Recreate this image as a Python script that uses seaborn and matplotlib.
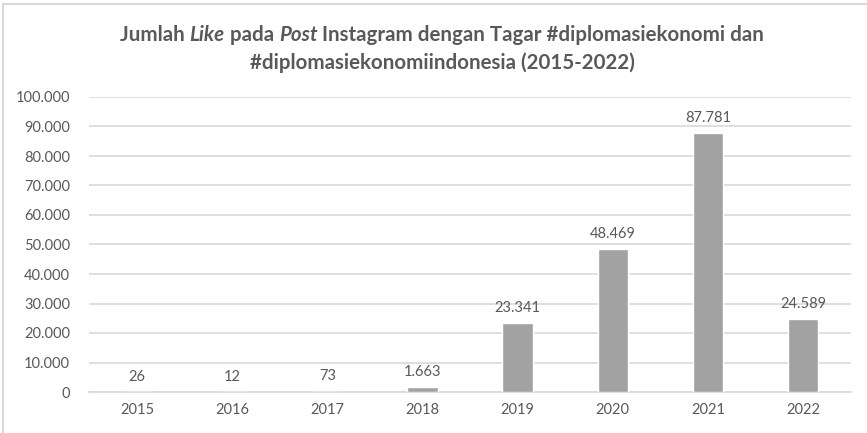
import matplotlib
matplotlib.use("Agg")
import matplotlib.pyplot as plt
import seaborn as sns
import pandas as pd
from matplotlib.patches import Rectangle

years = ["2015", "2016", "2017", "2018", "2019", "2020", "2021", "2022"]
likes = [26, 12, 73, 1663, 23341, 48469, 87781, 24589]
yticks = [0, 10000, 20000, 30000, 40000, 50000, 60000, 70000, 80000, 90000, 100000]

df = pd.DataFrame({"year": years, "likes": likes})

sns.set_theme(style="white")
plt.rcParams['font.family'] = ['Lato', 'DejaVu Sans']
TXT = "#595959"

fig = plt.figure(figsize=(8.67, 4.33), dpi=100)
ax = fig.add_axes([89.4/867, 1 - 392/433, (850.6-89.4)/867, (392-97)/433])

sns.barplot(data=df, x="year", y="likes", color="#a2a2a2", saturation=1,
            width=0.32, ax=ax, zorder=3)
ax.set_ylim(0, 100000)
ax.set_yticks(yticks)
ax.set_yticklabels([f"{v:,}".replace(",", ".") for v in yticks])
ax.yaxis.grid(True, color="#d9d9d9", linewidth=1.2, zorder=0)
ax.set_axisbelow(True)
for s in ["top", "right", "left"]:
    ax.spines[s].set_visible(False)
ax.spines["bottom"].set_color("#d9d9d9")
ax.spines["bottom"].set_linewidth(1.2)
ax.set_xlabel("")
ax.set_ylabel("")
ax.tick_params(axis="both", length=0, labelsize=10.5, labelcolor=TXT)
ax.tick_params(axis="y", pad=14)
ax.tick_params(axis="x", pad=8)

for i, v in enumerate(likes):
    ax.annotate(f"{v:,}".replace(",", "."), (i, v), xytext=(0, 6),
                textcoords="offset points", ha="center", va="bottom",
                fontsize=10.5, color=TXT)

# border
fig.patches.append(Rectangle((3/867, -0.1), 1.2, 1 - 4/433 + 0.1,
                             transform=fig.transFigure, fill=False,
                             edgecolor="#d9d9d9", linewidth=1.5))

# Title with italic parts
fig.canvas.draw()
renderer = fig.canvas.get_renderer()

def rich_line(parts, y, cx=442/867, size=14.8):
    texts = []
    for s, style in parts:
        t = fig.text(0, y, s, fontsize=size, fontweight="bold", style=style,
                     color=TXT, ha="left", va="center")
        texts.append(t)
    widths = []
    for t in texts:
        bb = t.get_window_extent(renderer=renderer)
        widths.append(bb.width / fig.bbox.width)
    total = sum(widths)
    x = cx - total / 2
    for t, w in zip(texts, widths):
        t.set_x(x)
        x += w

rich_line([("Jumlah ", "normal"), ("Like", "italic"), (" pada ", "normal"),
           ("Post", "italic"),
           (" Instagram dengan Tagar #diplomasiekonomi dan", "normal")],
          1 - 35/433)
rich_line([("#diplomasiekonomiindonesia (2015-2022)", "normal")], 1 - 63/433)

fig.savefig("out.png", dpi=100)
